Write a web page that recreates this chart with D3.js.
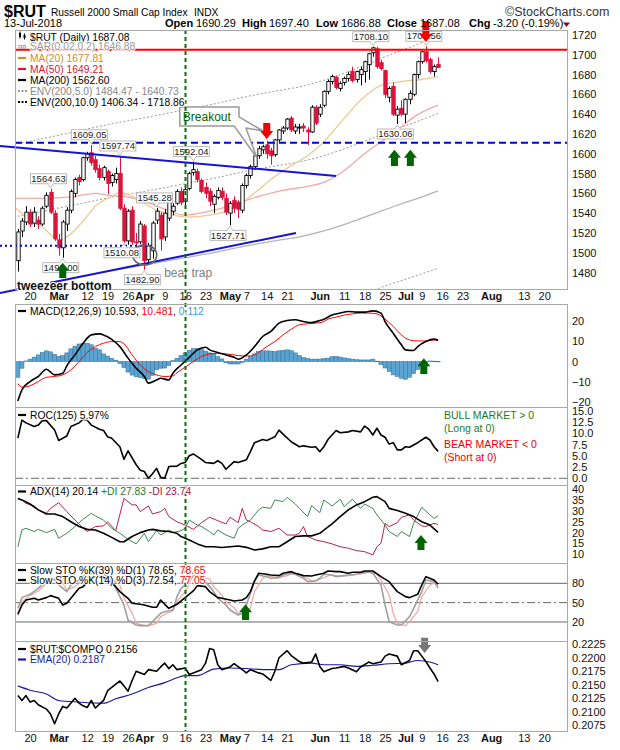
<!DOCTYPE html>
<html><head><meta charset="utf-8">
<script src="https://cdn.jsdelivr.net/npm/d3@7/dist/d3.min.js"></script>
<style>html,body{margin:0;padding:0;background:#fff;}</style>
</head><body>
<svg id="chart" width="620" height="750"></svg>
<script>
// ================= DATA =================
const holidays = ["2018-02-19","2018-03-30","2018-05-28","2018-07-04"];
// daily OHLC from 2018-02-14 to 2018-07-13 [open, high, low, close]
const ohlc = [
[1492,1524,1481,1521],[1522,1535,1516,1532],[1531,1547,1528,1541],
[1541,1544,1526,1529],[1530,1546,1526,1541],[1533,1537,1524,1529],[1529,1547,1527,1545],
[1547,1561,1545,1558],[1561,1564.63,1539,1541],[1540,1543,1512,1514],[1513,1519,1497,1505],[1505,1533,1495,1531],
[1529,1546,1522,1543],[1543,1564,1540,1562],[1560,1576,1556,1574],[1576,1579,1568,1572],[1574,1597,1572,1596],
[1596,1602,1593,1600],[1601,1609.05,1588,1591],[1594,1598,1581,1584],[1585,1589,1573,1576],[1576,1588,1573,1586],
[1582,1584,1559,1570],[1571,1580,1567,1578],[1574,1586,1570,1580],[1580,1597.74,1543,1545],[1545,1549,1510.08,1512],
[1512,1544,1508,1542],[1543,1547,1508,1511],[1511,1520,1503,1510],[1511,1532,1509,1529],
[1527,1529,1482.9,1492],[1493,1510,1488,1507],[1502,1532,1494,1530],[1533,1545.28,1529,1542],[1538,1541,1502,1514],
[1516,1544,1512,1540],[1535,1555,1532,1552],[1542,1550,1538,1547],[1550,1564,1548,1562],[1562,1566,1548,1551],
[1552,1566,1548,1564],[1565,1582,1563,1580],[1581,1592.04,1578,1584],[1582,1585,1571,1574],[1573,1575,1560,1562],
[1566,1571,1555,1560],[1562,1565,1547,1552],[1549,1559,1540,1557],[1556,1566,1554,1563],[1562,1566,1553,1556],
[1555,1560,1538,1541],[1540,1552,1527.71,1550],[1553,1557,1540,1545],[1551,1553,1535,1544],[1543,1570,1540,1568],
[1568,1580,1565,1578],[1578,1589,1575,1587],[1587,1600,1584,1598],[1598,1608,1595,1605],[1604,1609,1600,1607],
[1609,1613,1595,1600],[1603,1606,1589,1598],[1599,1615,1597,1614],[1614,1625,1612,1624],[1623,1628,1620,1626],
[1626,1636,1624,1635],[1636,1638,1622,1624],[1623,1630,1620,1627],[1626,1630,1620,1627],[1628,1631,1622,1626],
[1624,1627,1609,1622],[1622,1649,1621,1647],[1647,1649,1629,1631],[1640,1650,1637,1647],
[1649,1664,1647,1663],[1663,1675,1660,1673],[1673,1680,1670,1678],[1677,1679,1665,1667],[1666,1673,1663,1671],
[1672,1678,1669,1676],[1676,1683,1673,1680],[1683,1688,1672,1674],[1675,1684,1672,1683],[1680,1688,1669,1685],
[1683,1694,1672,1693],[1690,1702,1675,1701],[1702,1708.1,1698,1707],[1706,1708,1686,1688],[1692,1695,1684,1686],
[1684,1685,1656,1660],[1657,1668,1652,1666],[1668,1672,1638,1640],[1639,1648,1630.06,1645],[1646,1654,1638,1640],
[1640,1656,1631,1655],[1655,1664,1650,1661],[1660,1681,1658,1680],[1680,1694,1676,1693],
[1693,1704,1691,1703],[1703,1708.56,1692,1694],[1695,1697,1681,1683],[1683,1690,1678,1688],[1690.29,1697.4,1686.88,1687.08]
];
// overlays / indicators: [trading days since 2018-02-20, value]
const ma20 = [[-4,1547],[0,1533],[3,1526],[7,1513],[9,1516],[13,1532],[16,1547],[20,1557],[22,1561],[25,1557],[28,1550],[31,1543],[34,1539],[39,1536],[44,1538],[49,1543],[54,1557],[59,1574],[64,1588],[68,1598],[71,1608],[76,1631],[81,1654],[86,1669],[91,1673],[96,1675],[100,1677.81]];
const ma50 = [[-4,1555],[3,1555],[11,1557],[16,1560],[19,1558],[23,1557],[28,1552],[33,1544],[38,1538],[44,1542],[48,1546],[56,1557],[62,1563],[68,1567],[72,1571],[76,1580],[82,1600],[87,1615],[91,1627],[94,1637],[100,1649.21]];
const ma200 = [[-4,1463],[0,1466],[10,1474],[20,1482],[30,1489],[38,1495],[46,1501],[53,1507],[60,1512],[66,1516],[72,1522],[78,1530],[84,1539],[90,1548],[95,1555],[100,1562.6]];
const envPct = [0.05, 0.10];
const macdHist = [-7.8,-3.3,0.3,1.2,2.2,3.3,4.5,5.3,4.8,3.6,2.6,3.0,4.3,6.3,7.6,8.7,9.1,9.1,8.3,6.6,5.8,3.8,2.7,1.6,0.7,-1.0,-3.0,-5.2,-6.7,-7.5,-7.9,-8.4,-8.7,-6.8,-4.1,-3.3,-3.2,-2.0,0.5,1.6,3.0,4.3,5.6,6.4,6.6,6.0,5.2,4.3,3.8,2.4,1.3,-0.6,-1.2,-1.2,-1.2,-0.5,1.2,2.5,3.8,5.0,5.3,5.3,5.2,5.0,5.3,5.6,5.8,5.4,4.3,3.0,2.0,1.6,1.2,1.2,1.2,1.5,1.7,2.4,2.5,2.2,1.8,1.5,1.2,0.9,0.8,0.8,0.8,1.2,0.2,-1.5,-3.2,-4.9,-6.6,-7.4,-8.3,-8.8,-7.8,-6.0,-4.0,-1.6,0.0,0.3,0.2,0.112];
const macdLine = [[-3,-19.5],[-2,-14],[0,-9.9],[2,-7.4],[4,-3.8],[6,-6.6],[8,-5.8],[9,-2.1],[11,3.3],[13,9.1],[15,13.2],[17,13.7],[18,13.2],[20,11],[22,7.4],[24,1.7],[26,-3.3],[28,-7.4],[29,-10.7],[31,-9.1],[32,-8.3],[34,-9.1],[35,-5.8],[37,-1.7],[39,2.1],[41,5.8],[43,7.1],[44,5.8],[46,4.5],[48,3.3],[50,2.1],[51,1.2],[53,3.3],[55,7.4],[57,12.4],[59,14.9],[61,19],[63,20.3],[65,20.7],[67,19.8],[69,19.3],[71,20.3],[72,21],[74,23],[76,24],[78,24.8],[80,24.5],[82,24.5],[84,25.1],[86,24],[87,19.8],[89,14],[91,8.3],[92,5.8],[94,5.5],[95,7.4],[97,9.9],[99,11.1],[100,10.593]];
const macdSignal = [[-3,-11],[-2,-12.7],[0,-12],[2,-9.9],[4,-7.8],[6,-7.4],[8,-6.6],[10,-4.1],[12,0],[14,4.5],[16,7.4],[18,9.1],[20,9.9],[22,9.9],[23,8.8],[25,3.3],[27,-1.7],[29,-5],[31,-6.6],[33,-7.4],[35,-7.1],[36,-5.5],[38,-2.8],[40,0],[42,2.5],[44,3.8],[46,4.1],[48,3.8],[50,3.3],[52,2.8],[54,2.8],[56,4.5],[58,7.4],[60,9.9],[62,13.2],[64,16],[66,18.2],[68,18.7],[70,19],[72,19.8],[73,21],[75,22],[77,23],[79,23.6],[81,24],[83,24],[85,23.6],[87,21],[89,17.4],[91,13.2],[93,10.7],[95,10.2],[97,10.2],[99,10.7],[100,10.481]];
const roc = [[-3,8.9],[-2,12.9],[-1,12.3],[1,11.5],[2,11.8],[3,12.8],[4,12.8],[6,10.7],[7,8.4],[9,9.4],[10,11.5],[12,12.3],[13,13.1],[14,12.9],[15,11.8],[17,10.9],[18,10.6],[19,9.2],[20,8.9],[22,7],[23,4.2],[24,6.1],[26,3],[27,1.8],[28,1.5],[29,0],[30,1.0],[31,2.2],[32,0.2],[33,0],[34,2.6],[36,2.7],[37,3.3],[38,3.5],[39,5],[40,5.4],[42,4.2],[43,3.5],[45,3.3],[46,3.9],[47,3.3],[48,2],[50,3.7],[51,3.5],[53,4.1],[54,5.9],[55,7.9],[57,8.6],[58,8.4],[60,9.2],[61,10.7],[62,9.8],[64,8.1],[66,7],[67,7.2],[69,6.9],[70,7],[71,5.9],[72,7],[73,8.6],[75,10.6],[76,10.1],[78,10.3],[79,10.6],[81,10.3],[82,11.6],[83,10.9],[84,9.6],[85,11.1],[86,9.6],[87,9.1],[88,7.6],[89,7.9],[90,6.3],[91,6.3],[92,7],[93,6.9],[95,7.9],[97,9.1],[98,8.5],[99,7],[100,5.97]];
const adx = [[-3,35.8],[-2,35.1],[0,33.2],[2,30.5],[4,28.6],[6,28.6],[8,27.4],[10,25],[12,22.8],[14,21.5],[16,21.2],[18,19.7],[20,17.8],[22,15.8],[23,15.8],[25,18.2],[27,20],[29,21.2],[30,21.5],[32,20.8],[34,20.5],[36,19.7],[37,18.2],[39,16.6],[41,14.8],[43,13.5],[45,13.5],[47,13.1],[49,13.5],[51,13.8],[53,13.2],[55,12],[57,12.5],[59,13.5],[61,13.5],[63,15.8],[65,18.2],[67,18.5],[69,18.5],[71,19.7],[72,21.2],[74,24],[76,27.4],[78,30.5],[80,32.8],[82,34.3],[84,36.3],[85,36.6],[87,34.3],[88,31.2],[90,30.2],[92,28.9],[94,27.4],[96,25],[98,23.5],[100,20.14]];
const plusDI = [[-3,13.5],[-2,21.2],[-1,22],[1,20.5],[2,21.5],[4,20],[6,21.5],[7,17.4],[9,19.7],[11,22.8],[13,26.2],[15,28.9],[16,27.7],[18,25.8],[20,22],[22,19.7],[24,16.9],[26,14.8],[28,19.7],[29,15.8],[31,20.9],[32,18.9],[34,21.2],[35,20],[37,20.9],[38,22],[39,25.8],[41,23.5],[42,22.8],[44,20.5],[45,18.9],[46,21.2],[48,18.9],[50,17.4],[51,22],[52,23.5],[54,25.8],[56,30.5],[57,31.7],[59,31.2],[60,35.1],[62,34.3],[63,36.3],[65,33.2],[66,31.2],[68,27.4],[69,32.5],[71,29.2],[72,35.1],[74,32.3],[76,35.4],[77,32],[79,35.4],[81,31.2],[82,33.2],[84,31.2],[85,28.2],[87,23.5],[88,20.5],[90,18.2],[91,20.5],[93,18.2],[94,24.3],[96,31.7],[98,28.2],[99,26.6],[100,27.83]];
const minusDI = [[-3,35.8],[-2,35],[-1,33.5],[1,32.3],[2,30.5],[4,28.9],[5,31.2],[7,33.8],[9,29.7],[11,25.8],[13,22],[14,20.5],[16,22.8],[18,23.1],[19,25],[21,20.9],[23,35.8],[25,32.8],[26,32.8],[27,29.7],[29,32.3],[30,28.6],[32,29.7],[33,31.2],[34,27.4],[36,25],[38,23.5],[40,21.5],[42,24.6],[44,27.1],[46,25.5],[48,24],[49,27.1],[51,24.6],[52,31.2],[53,25.8],[54,25],[56,22.8],[57,21.2],[59,20.5],[61,22],[63,18.9],[65,18.9],[66,19.7],[67,22.8],[68,18.2],[70,16.6],[72,15.8],[74,14.8],[76,13.5],[78,12.8],[80,11.7],[82,11.2],[84,9.7],[85,13.5],[86,15.1],[87,24.3],[88,22.8],[90,24.6],[91,27.1],[93,28.2],[94,25.8],[96,23.1],[97,22.8],[99,24.3],[100,23.74]];
const sto39 = [[-3,31.9],[-2,46.4],[-1,54.1],[1,56.7],[2,54.1],[4,57.8],[5,60.9],[7,56.7],[8,46.4],[9,49],[11,64.5],[12,72.2],[13,74.8],[15,88],[17,92],[19,86],[21,74.8],[22,67.1],[24,56.7],[25,49],[27,47.4],[28,46.4],[30,42.8],[31,42.8],[32,54.1],[33,47.4],[34,41.2],[36,47.4],[37,52.6],[38,57.8],[40,68.1],[41,76.4],[43,74.8],[44,67.1],[46,57.8],[47,56.7],[49,54.1],[50,52.6],[52,54.1],[53,57.8],[54,67.1],[55,83.6],[56,95.5],[58,94],[59,92.9],[61,91.9],[62,95.5],[64,98.1],[65,95.5],[67,91.9],[69,91.4],[70,92.9],[72,95.5],[73,99.1],[75,98.1],[76,98.1],[78,95.5],[79,97.1],[81,97.1],[82,99.1],[84,99.1],[86,90.3],[88,82.6],[89,74.8],[90,67.1],[92,59.3],[93,57.8],[95,62.9],[96,77.4],[97,90.3],[99,85.2],[100,78.65]];
const sto14 = [[-3,41.2],[-2,57.8],[0,62.9],[2,72.2],[4,85.2],[6,86.7],[7,77.4],[9,67.1],[10,77.4],[12,85.2],[14,95.5],[16,98.1],[18,95.5],[20,82.6],[21,72.2],[23,46.4],[24,23.1],[26,15.3],[27,14.3],[29,14.3],[30,20.5],[32,33.4],[33,36],[35,38.6],[36,59.3],[37,72.2],[39,82.6],[40,91.9],[42,90.3],[43,82.6],[45,67.1],[46,56.7],[48,46.4],[49,38.6],[51,30.9],[52,33.4],[53,46.4],[55,82.6],[56,92.9],[58,90.3],[59,87.8],[61,88.8],[62,92.9],[64,95.5],[65,94],[67,87.8],[68,82.6],[70,83.6],[71,87.8],[72,94],[74,92.9],[75,90.3],[77,91.9],[78,92.9],[80,94],[81,95.5],[83,98.1],[84,95.5],[86,77.4],[87,46.4],[88,20.5],[90,15.3],[91,15.3],[93,28.3],[94,41.2],[96,67.1],[97,85.2],[99,82.6],[100,72.54]];
const sto14D = [[-3,33.4],[-2,51.5],[0,60.9],[2,68.1],[4,80],[6,85.2],[8,80],[9,69.7],[11,74.8],[13,85.2],[15,94],[16,97.1],[18,97.1],[20,87.8],[22,76.4],[23,56.7],[25,33.4],[26,17.9],[28,14.3],[29,14.3],[31,17.9],[32,28.3],[34,35],[35,37.1],[36,51.5],[38,67.1],[39,78.4],[41,87.8],[42,90.3],[44,86.7],[45,74.8],[47,61.9],[48,51.5],[50,42.2],[51,33.4],[53,31.9],[54,41.2],[55,67.1],[57,87.8],[58,91.9],[60,89.3],[61,88.8],[63,91.9],[64,94.5],[66,94.5],[67,90.3],[69,84.1],[70,83.6],[71,86.2],[73,91.4],[74,92.9],[76,91.4],[77,91.4],[79,92.4],[80,94],[82,95.5],[83,97.1],[85,95.5],[86,85.2],[88,61.9],[89,33.4],[90,17.9],[92,14.3],[93,20.5],[95,36],[96,59.3],[98,77.4],[99,80],[100,77.05]];
const relRatio = [[-3,.2130],[-2,.2121],[-1,.2130],[0,.2118],[1,.2121],[2,.2113],[4,.2105],[5,.2096],[6,.2078],[7,.2096],[8,.2110],[9,.2107],[11,.2125],[12,.2116],[13,.2111],[14,.2108],[15,.2121],[16,.2107],[18,.2121],[19,.2139],[21,.2151],[22,.2157],[23,.2148],[24,.2138],[25,.2158],[26,.2175],[28,.2169],[29,.2178],[31,.2175],[32,.2183],[33,.2190],[34,.2180],[35,.2187],[36,.2178],[38,.2181],[39,.2169],[40,.2172],[42,.2178],[43,.2190],[44,.2217],[45,.2215],[46,.2187],[47,.2178],[49,.2183],[50,.2189],[52,.2178],[53,.2172],[54,.2178],[56,.2172],[57,.2170],[59,.2158],[60,.2175],[61,.2200],[63,.2213],[64,.2204],[66,.2193],[67,.2190],[69,.2192],[70,.2207],[71,.2184],[72,.2174],[74,.2180],[75,.2181],[77,.2184],[78,.2181],[80,.2174],[81,.2183],[83,.2192],[84,.2189],[86,.2192],[87,.2203],[88,.2207],[90,.2203],[91,.2187],[93,.2195],[94,.2213],[95,.2213],[96,.2203],[97,.2193],[98,.2181],[99,.2170],[100,.2156]];
const relEma = [[-3,.2148],[0,.2140],[4,.2133],[7,.2121],[12,.2118],[18,.2116],[21,.2124],[25,.2133],[29,.2145],[33,.2154],[36,.2163],[38,.2167],[41,.2167],[45,.2179],[49,.2181],[53,.2180],[57,.2178],[61,.2178],[64,.2187],[69,.2190],[72,.2187],[76,.2187],[80,.2184],[84,.2186],[88,.2189],[92,.2190],[95,.2195],[98,.2192],[100,.2187]];
// chart drawing levels
const resistance = 1705, support1 = 1611, support2 = 1507;
const upperTrend = [[-7.38,1607.9],[74.97,1577.6]];
const lowerTrend = [[-7.38,1459.4],[65.17,1520]];
const support2Span = [-7.38,30.5];
const markerDay = 38;
// price labels: text, day, price, side
const priceLabels = [["1564.63",5,1564.63,"up"],["1609.05",15,1609.05,"up"],["1597.74",22,1597.74,"up"],["1495.00",8,1495,"down"],["1510.08",23,1510.08,"down"],["1482.90",28,1482.9,"down"],["1545.28",31,1545.28,"up"],["1592.04",40,1592.04,"up"],["1527.71",49,1527.71,"down"],["1708.10",84,1708.1,"up"],["1708.56",97,1708.56,"up"],["1630.06",90,1630.06,"down"]];
// arrows: panel, day, tip value, tail value, color
const arrows = [["main",8,1490,1474.5,"#006400"],["main",58,1615,1631,"#f00000"],["main",97,1713,1734,"#f00000"],["main",89.3,1604,1587.7,"#006400"],["main",93.2,1604,1587.7,"#006400"],["macd",96.5,1.7,-6.2,"#006400"],["adx",95.8,18.9,12,"#006400"],["sto",52.8,47.4,23.1,"#006400"],["rel",96.7,0.22086,0.2237,"#777"]];
const callout = [[36.7,1647.3],[51.2,1647.3],[51.2,1637.2],[57.1,1623],[52.9,1626.1],[55.6,1595.8],[50,1628.1],[36.7,1628.1]];
const bearTrap = {day:28.1, price:1497.8};
// axis ticks
const dateTicks = [["20","2018-02-20"],["Mar","2018-03-01"],["12","2018-03-12"],["19","2018-03-19"],["26","2018-03-26"],["Apr","2018-04-02"],["9","2018-04-09"],["16","2018-04-16"],["23","2018-04-23"],["May","2018-05-01"],["7","2018-05-07"],["14","2018-05-14"],["21","2018-05-21"],["Jun","2018-06-01"],["11","2018-06-11"],["18","2018-06-18"],["25","2018-06-25"],["Jul","2018-07-02"],["9","2018-07-09"],["16","2018-07-16"],["23","2018-07-23"],["Aug","2018-08-01"],["13","2018-08-13"],["20","2018-08-20"]];
const priceTicks = [1480,1500,1520,1540,1560,1580,1600,1620,1640,1660,1680,1700,1720];
const macdTicks = [-20,-10,0,10,20];
const rocTicks = [0,2.5,5,7.5,10,12.5,15];
const adxTicks = [10,15,20,25,30,35,40];
const stoTicks = [20,50,80];
const relTicks = [0.2075,0.21,0.2125,0.215,0.2175,0.22,0.2225];

// ================= LAYOUT =================
const FONT = 'Arial, "Liberation Sans", sans-serif';
const svg = d3.select("#chart").attr("font-family",FONT);
const PL = 15, PR = 567;
const P = {main:[30,289], macd:[304,407], roc:[407,485], adx:[485,563], sto:[563,641], rel:[641,731]};
const fmt = d3.utcFormat("%Y-%m-%d");
const tradingDays = d3.utcDays(new Date(Date.UTC(2018,1,14)), new Date(Date.UTC(2018,8,1)))
  .filter(d => d.getUTCDay()!==0 && d.getUTCDay()!==6 && !holidays.includes(fmt(d))).map(fmt);
const i0 = tradingDays.indexOf("2018-02-20");
const dayIdx = s => tradingDays.indexOf(s) - i0;

const x = d3.scaleLinear().domain([0,100]).range([30.1,438.1]);
const Y = {
  main: d3.scaleLinear().domain([1463.4,1725]).range([289,30]),
  macd: d3.scaleLinear().domain([-22.5,28.5]).range([407,304]),
  roc:  d3.scaleLinear().domain([-1.49,15.82]).range([485,407]),
  adx:  d3.scaleLinear().domain([5.98,41.98]).range([563,485]),
  sto:  d3.scaleLinear().domain([-9.5,111.5]).range([641,563]),
  rel:  d3.scaleLinear().domain([0.20645,0.2231]).range([731,641])
};
const yP = Y.main;
const defs = svg.append("defs");
Object.entries(P).forEach(([k,[t,b]]) => {
  defs.append("clipPath").attr("id","clip-"+k).append("rect").attr("x",PL).attr("y",t).attr("width",PR-PL).attr("height",b-t);
});
const lineOf = (ys, curve) => d3.line().x(d=>x(d[0])).y(d=>ys(d[1])).curve(curve||d3.curveLinear);
function drawLine(panel, data, color, w, opts={}) {
  const p = svg.append("path").attr("d", lineOf(Y[panel], opts.curve)(data)).attr("fill","none")
    .attr("stroke",color).attr("stroke-width",w).attr("clip-path","url(#clip-"+panel+")").attr("stroke-linejoin","round");
  if (opts.dash) p.attr("stroke-dasharray",opts.dash);
  return p;
}

// ---------- main overlays ----------
envPct.forEach(k => {
  drawLine("main", ma200.map(([i,v])=>[i,v*(1+k)]), "#9a9a9a", 1, {curve:d3.curveMonotoneX, dash:"2,2"});
  drawLine("main", ma200.map(([i,v])=>[i,v*(1-k)]), "#9a9a9a", 1, {curve:d3.curveMonotoneX, dash:"2,2"});
});
drawLine("main", ma200, "#b4b4b4", 1.3, {curve:d3.curveMonotoneX});
drawLine("main", ma50, "#f2a9a9", 1.3, {curve:d3.curveMonotoneX});
drawLine("main", ma20, "#eccb94", 1.3, {curve:d3.curveMonotoneX});

// candles
const cg = svg.append("g").attr("clip-path","url(#clip-main)");
ohlc.forEach((d,j) => {
  const i = j - i0, [o,h,l,c] = d, cx = Math.round(x(i))+0.5;
  const up = c >= o, col = up ? "#000" : "#dc143c";
  cg.append("line").attr("x1",cx).attr("x2",cx).attr("y1",yP(h)).attr("y2",yP(l)).attr("stroke",col).attr("stroke-width",1);
  const top = yP(Math.max(o,c)), ht = Math.max(1, Math.abs(yP(o)-yP(c)));
  cg.append("rect").attr("x",cx-1.7).attr("y",top).attr("width",3.4).attr("height",ht)
    .attr("fill", up ? "#fff" : col).attr("stroke",col).attr("stroke-width",0.9);
});

// horizontal levels
svg.append("line").attr("x1",PL).attr("x2",PR).attr("y1",yP(resistance)).attr("y2",yP(resistance)).attr("stroke","#f00").attr("stroke-width",2);
svg.append("line").attr("x1",PL).attr("x2",PR).attr("y1",yP(support1)).attr("y2",yP(support1)).attr("stroke","#0000e6").attr("stroke-width",2).attr("stroke-dasharray","7,4");
svg.append("line").attr("x1",x(support2Span[0])).attr("x2",x(support2Span[1])).attr("y1",yP(support2)).attr("y2",yP(support2)).attr("stroke","#0000e6").attr("stroke-width",2).attr("stroke-dasharray","2,3");
[upperTrend, lowerTrend].forEach(t => {
  svg.append("path").attr("d", lineOf(yP)(t)).attr("stroke","#1414d2").attr("stroke-width",2).attr("fill","none");
});

// bear trap ellipse
svg.append("ellipse").attr("cx",x(bearTrap.day)).attr("cy",yP(bearTrap.price)).attr("rx",12).attr("ry",10)
  .attr("fill","none").attr("stroke","#666").attr("stroke-width",1.6);

// price labels
priceLabels.forEach(([t,i,p,side]) => {
  const ax = x(i), ay = yP(p), w = 36, h = 10, cx = ax - 2;
  const by = side==="up" ? ay - 5 - h : ay + 5;
  const g = svg.append("g");
  const py = side==="up" ? by + h : by;
  g.append("path").attr("d",`M${ax-3},${py} L${ax},${ay + (side==="up"?-1:1)} L${ax+3},${py}`).attr("fill","#fff").attr("stroke","#aaa").attr("stroke-width",0.8);
  g.append("rect").attr("x",cx-w/2).attr("y",by).attr("width",w).attr("height",h).attr("fill","#fff").attr("stroke","#aaa").attr("stroke-width",0.8);
  g.append("line").attr("x1",ax-2.5).attr("x2",ax+2.5).attr("y1",py).attr("y2",py).attr("stroke","#fff").attr("stroke-width",1);
  g.append("text").attr("x",cx).attr("y",by+h-1.8).attr("text-anchor","middle").attr("font-size",9.5).attr("fill","#222").text(t);
});

// breakout callout
svg.append("path").attr("d", d3.line().x(d=>x(d[0])).y(d=>yP(d[1]))(callout)+"Z")
  .attr("fill","#fff").attr("stroke","#999").attr("stroke-width",1.5).attr("stroke-linejoin","round");
svg.append("text").attr("x",x(callout[0][0])+3).attr("y",yP(callout[0][1])+14).attr("font-size",12).attr("fill","#006400").text("Breakout");

svg.append("text").attr("x",x(32.85)).attr("y",yP(1475.6)).attr("font-size",12).attr("fill","#808080").text("bear trap");

// ---------- MACD ----------
const hw = (x(1)-x(0));
svg.append("g").attr("clip-path","url(#clip-macd)").selectAll("rect").data(macdHist).join("rect")
  .attr("x",(d,j)=>x(j-3)-hw/2).attr("width",hw)
  .attr("y",d=>Math.min(Y.macd(d),Y.macd(0))).attr("height",d=>Math.max(0.6,Math.abs(Y.macd(d)-Y.macd(0))))
  .attr("fill","#5ba3d0").attr("stroke","#2f6f99").attr("stroke-width",0.5);
drawLine("macd", macdSignal, "#f00", 1, {curve:d3.curveMonotoneX});
drawLine("macd", macdLine, "#000", 1.6, {curve:d3.curveMonotoneX});

// ---------- ROC ----------
svg.append("line").attr("x1",PL).attr("x2",PR).attr("y1",Y.roc(0)).attr("y2",Y.roc(0)).attr("stroke","#666").attr("stroke-dasharray","8,3,2,3");
drawLine("roc", roc, "#000", 1.6);

// ---------- ADX ----------
drawLine("adx", minusDI, "#b8214a", 1);
drawLine("adx", plusDI, "#3a8a55", 1);
drawLine("adx", adx, "#000", 1.6);

// ---------- STO ----------
[80,20].forEach(v => svg.append("line").attr("x1",PL).attr("x2",PR).attr("y1",Y.sto(v)).attr("y2",Y.sto(v)).attr("stroke","#666").attr("stroke-width",1));
svg.append("line").attr("x1",PL).attr("x2",PR).attr("y1",Y.sto(50)).attr("y2",Y.sto(50)).attr("stroke","#666").attr("stroke-dasharray","8,3,2,3");
drawLine("sto", sto14D, "#f4a3a3", 1.2);
drawLine("sto", sto14, "#a0a0a0", 1.6);
drawLine("sto", sto39, "#000", 1.6);

// ---------- RUT:COMPQ ----------
drawLine("rel", relEma, "#1a1aa0", 1.1, {curve:d3.curveMonotoneX});
drawLine("rel", relRatio, "#000", 1.6);

// vertical marker
svg.append("line").attr("x1",Math.round(x(markerDay))+0.5).attr("x2",Math.round(x(markerDay))+0.5).attr("y1",30).attr("y2",731)
  .attr("stroke","#0a700a").attr("stroke-width",2).attr("stroke-dasharray","4,3");

// arrows
arrows.forEach(([pn,i,tipV,tailV,col]) => {
  const cx = x(i), yt = Y[pn](tipV), yb = Y[pn](tailV), dir = yb > yt ? 1 : -1;
  const hh = 8, hwid = 6.5, sw = 3.5, yh = yt + dir*hh;
  svg.append("path").attr("d",`M${cx},${yt} L${cx+hwid},${yh} L${cx+sw},${yh} L${cx+sw},${yb} L${cx-sw},${yb} L${cx-sw},${yh} L${cx-hwid},${yh} Z`).attr("fill",col);
});

// ---------- frames & axes ----------
Object.entries(P).forEach(([k,[t,b]]) => {
  svg.append("rect").attr("x",PL+0.5).attr("y",t+0.5).attr("width",PR-PL).attr("height",b-t).attr("fill","none").attr("stroke","#a8a8a8");
});
function yAxis(panel, ticks, f) {
  const g = svg.append("g").attr("transform",`translate(${PR},0)`)
    .call(d3.axisRight(Y[panel]).tickValues(ticks).tickSize(0).tickPadding(5).tickFormat(f));
  g.select(".domain").remove();
  g.selectAll("text").attr("font-size",11).attr("fill","#111").attr("font-family",FONT);
}
yAxis("main", priceTicks, d3.format("d"));
yAxis("macd", macdTicks, d3.format("d"));
yAxis("roc", rocTicks, d3.format(".1f"));
yAxis("adx", adxTicks, d3.format("d"));
yAxis("sto", stoTicks, d3.format("d"));
yAxis("rel", relTicks, d3.format(".4f"));

const tickIdx = dateTicks.map(d => dayIdx(d[1]));
const tickLab = new Map(dateTicks.map(d => [dayIdx(d[1]), d[0]]));
[289, 731].forEach(yy => {
  const g = svg.append("g").attr("transform",`translate(0,${yy})`)
    .call(d3.axisBottom(x).tickValues(tickIdx).tickSize(0).tickPadding(3.5).tickFormat(v => tickLab.get(v)));
  g.select(".domain").remove();
  g.selectAll("text").attr("font-size",11).attr("fill","#111").attr("font-family",FONT)
    .attr("font-weight", v => isNaN(+tickLab.get(v)) ? "bold" : "normal");
});

svg.append("text").attr("x",17).attr("y",289.5).attr("font-size",12).attr("font-weight","bold").attr("fill","#111")
  .attr("stroke","#fff").attr("stroke-width",2).attr("paint-order","stroke").text("tweezeer bottom");

// ---------- legends ----------
function legend(yc, parts, icon, iconColor, x0) {
  const tx = x0 || 30;
  if (icon === "line") svg.append("line").attr("x1",18).attr("x2",26).attr("y1",yc).attr("y2",yc).attr("stroke",iconColor).attr("stroke-width",2.2);
  if (icon === "dot") svg.append("line").attr("x1",18).attr("x2",27).attr("y1",yc).attr("y2",yc).attr("stroke",iconColor).attr("stroke-width",2).attr("stroke-dasharray","2,1.5");
  if (icon === "sar") { [19,23].forEach(xx => svg.append("rect").attr("x",xx).attr("y",yc-1).attr("width",2.5).attr("height",2.5).attr("fill","none").attr("stroke",iconColor).attr("stroke-width",0.8)); }
  if (icon === "candle") {
    [[19,yc-4,4,"#000"],[23.5,yc-2,3,"#000"]].forEach(([xx,yy,hh,c]) => {
      svg.append("line").attr("x1",xx+1).attr("x2",xx+1).attr("y1",yy-1.5).attr("y2",yy+hh+1.5).attr("stroke",c);
      svg.append("rect").attr("x",xx).attr("y",yy).attr("width",2).attr("height",hh).attr("fill",c);
    });
  }
  const t = svg.append("text").attr("x",tx).attr("y",yc+3.6).attr("font-size",10.3)
    .attr("stroke","#fff").attr("stroke-width",2.5).attr("stroke-opacity",0.85).attr("paint-order","stroke");
  parts.forEach(([s,c]) => t.append("tspan").attr("fill",c).text(s));
}
legend(37,[["$RUT (Daily) 1687.08","#000"]],"candle","#000",30);
legend(46.5,[["SAR(0.02,0.2) 1646.88","#999"]],"sar","#999");
legend(58,[["MA(20) 1677.81","#d18d1f"]],"line","#d18d1f");
legend(69,[["MA(50) 1649.21","#dc143c"]],"line","#dc143c");
legend(80,[["MA(200) 1562.60","#000"]],"line","#000");
legend(91,[["ENV(200,5.0) 1484.47 - 1640.73","#888"]],"dot","#999");
legend(102,[["ENV(200,10.0) 1406.34 - 1718.86","#000"]],"dot","#000");

legend(311,[["MACD(12,26,9) 10.593, ","#000"],["10.481","#f00"],[", ","#000"],["0.112","#3a9ad9"]],"line","#000");
legend(415,[["ROC(125) 5.97%","#000"]],"line","#000");
legend(491.5,[["ADX(14) 20.14 ","#000"],["+DI 27.83 ","#1d7a30"],["-DI 23.74","#b0103a"]],"line","#000");
legend(570,[["Slow STO %K(39) %D(1) 78.65, ","#000"],["78.65","#f00"]],"line","#000");
legend(580,[["Slow STO %K(14) %D(3) 72.54, ","#000"],["77.05","#f00"]],"line","#000");
legend(649,[["$RUT:$COMPQ 0.2156","#000"]],"line","#000");
legend(659.5,[["EMA(20) 0.2187","#1a1aa0"]],"line","#1a1aa0");

// ROC notes
[["BULL MARKET > 0",418.5,"#1e7a1e"],["(Long at 0)",431.5,"#1e7a1e"],["BEAR MARKET < 0",448,"#ee0000"],["(Short at 0)",461,"#ee0000"]]
  .forEach(([s,yy,c]) => svg.append("text").attr("x",444).attr("y",yy).attr("font-size",10.5).attr("fill",c).text(s));

// ---------- header ----------
svg.append("text").attr("x",4).attr("y",17).attr("font-size",16).attr("font-weight","bold").text("$RUT");
svg.append("text").attr("x",51).attr("y",16).attr("font-size",10.2).text("Russell 2000 Small Cap Index");
svg.append("text").attr("x",194).attr("y",16).attr("font-size",10.2).text("INDX");
svg.append("text").attr("x",505).attr("y",16).attr("font-size",12.5).attr("fill","#333").text("\u00A9StockCharts.com");
svg.append("text").attr("x",4).attr("y",27).attr("font-size",11).text("13-Jul-2018");
const hdr = [["Open",165,true],["1690.29",196,false],["High",242,true],["1697.40",269,false],["Low",316,true],["1686.88",341,false],["Close",387,true],["1687.08",420,false],["Chg",469,true],["-3.20 (-0.19%)",493,false]];
hdr.forEach(([s,xx,b]) => svg.append("text").attr("x",xx).attr("y",27).attr("font-size",11).attr("font-weight",b?"bold":"normal").text(s));
svg.append("path").attr("d","M563,22.5 L570,22.5 L566.5,27 Z").attr("fill","#8b0a2a");
</script>
</body></html>
